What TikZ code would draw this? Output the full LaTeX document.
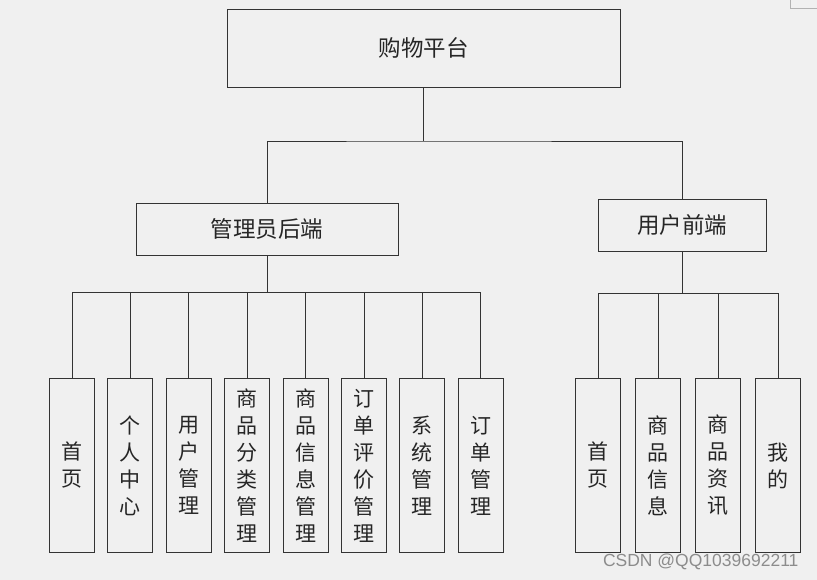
\documentclass[tikz,border=0pt]{standalone}
\usepackage{fontspec}
\newfontfamily\cjk{Noto Sans CJK SC}
\newfontfamily\latin{Liberation Sans}
\definecolor{pagebg}{HTML}{F0F0F0}
\definecolor{inkline}{HTML}{333333}

\begin{document}
\begin{tikzpicture}[x=1pt, y=-1pt,
	box/.style={draw=inkline, line width=0.9pt, inner sep=0pt, text=black!85, align=center},
	leaf/.style={box, minimum width=45pt, minimum height=174pt, font=\cjk\fontsize{21}{27}\selectfont},
	link/.style={draw=inkline, line width=0.9pt}]
	% Page
	\fill[pagebg] (0,0) rectangle (817,580);
	\useasboundingbox (0,0) rectangle (817,580);
	\draw[black!30] (790,0) -- (790,8) -- (817,8);

	% Top levels
	\node[box, minimum width=393pt, minimum height=78pt, font=\cjk\fontsize{22.5}{22.5}\selectfont] (root) at (423.5,48) {购物平台};
	\node[box, minimum width=262pt, minimum height=52pt, font=\cjk\fontsize{22.5}{22.5}\selectfont] (admin) at (267,229) {管理员后端};
	\node[box, minimum width=168pt, minimum height=52pt, font=\cjk\fontsize{22.5}{22.5}\selectfont] (user) at (682,225) {用户前端};

	\coordinate (rootbus) at (423.5,141);
	\coordinate (adminbus) at (267,292);
	\coordinate (userbus) at (682,293);

	\draw[link] (root.south) -- (rootbus);
	\draw[link] (admin.north) |- (rootbus) -| (user.north);
	\draw[link] (admin.south) -- (adminbus);
	\draw[link] (user.south) -- (userbus);

	% Admin back end modules
	\foreach \x/\t [count=\n] in {72/首\\页, 130.4/个\\人\\中\\心, 188.8/用\\户\\管\\理, 247.2/商\\品\\分\\类\\管\\理,
		305.6/商\\品\\信\\息\\管\\理, 364/订\\单\\评\\价\\管\\理, 422.4/系\\统\\管\\理, 480.8/订\\单\\管\\理} {
		\node[leaf] (a\n) at (\x,465.5) {\t};
		\draw[link] (a\n.north) |- (adminbus);
	}

	% User front end modules
	\foreach \x/\t [count=\n] in {598/首\\页, 658/商\\品\\信\\息, 718/商\\品\\资\\讯, 778/我\\的} {
		\node[leaf] (u\n) at (\x,465.5) {\t};
		\draw[link] (u\n.north) |- (userbus);
	}

	% Watermark
	\node[anchor=east, text=black!45, font=\latin\fontsize{17.5}{17.5}\selectfont] (mark) at (802,562) {CSDN @QQ1039692211};
\end{tikzpicture}
\end{document}
